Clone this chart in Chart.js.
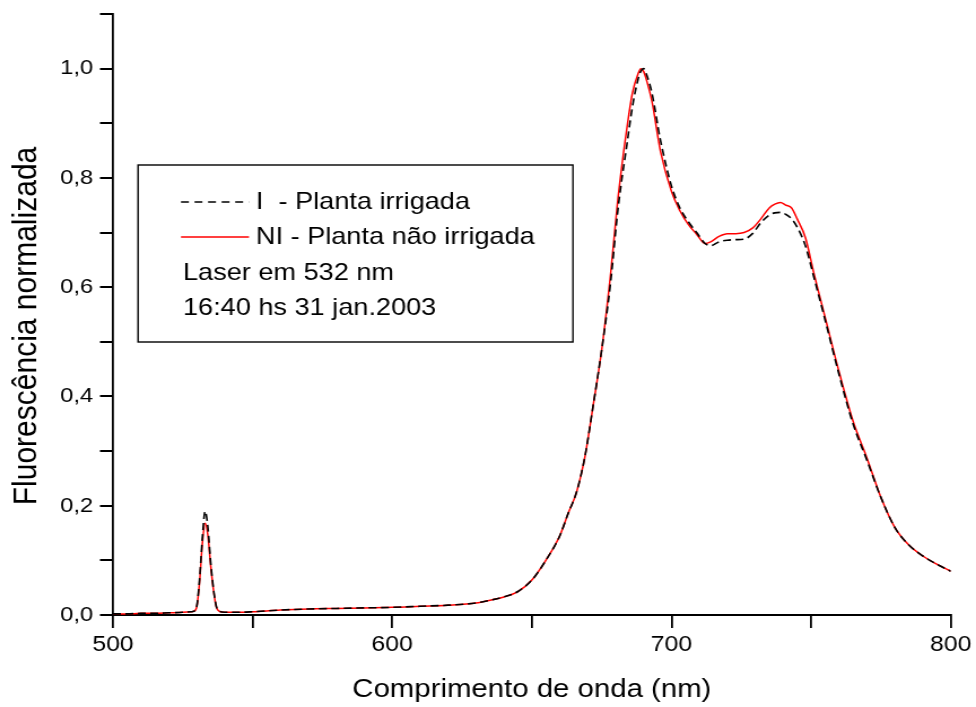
<!DOCTYPE html>
<html>
<head>
    <meta charset="UTF-8">
    <title>Fluorescencia normalizada</title>
    <script src="https://cdn.jsdelivr.net/npm/chart.js"></script>
    <style>
        html, body { margin: 0; padding: 0; background: #fff; overflow: hidden; }
        /* the original figure is stretched horizontally, so draw narrower and stretch */
        #wrap { position: relative; width: 864px; height: 707px; transform: scaleX(1.12963); transform-origin: 0 0; }
    </style>
</head>
<body>
    <div id="wrap">
        <canvas id="fluorChart"></canvas>
    </div>

<script>
        // comprimento de onda (nm)
        const wavelength = [500, 505, 510, 515, 520, 525, 528, 529, 530, 531, 532, 533, 534, 535, 536, 537, 538, 540, 545, 550,
            560, 570, 580, 590, 600, 610, 620, 630, 635, 640, 645, 650, 655, 660, 663, 666, 669, 672, 675, 678,
            681, 684, 686, 688, 689, 690, 691, 693, 696, 700, 703, 706, 709, 712, 714, 717, 720, 723, 726, 729,
            732, 735, 737, 739, 741, 743, 745, 748, 751, 755, 760, 765, 770, 775, 780, 785, 790, 795, 800];

        // I - Planta irrigada
        const plantaIrrigada = [0.002, 0.002, 0.003, 0.003, 0.004, 0.005, 0.006, 0.007, 0.016, 0.065, 0.14, 0.19, 0.16, 0.095, 0.047, 0.016, 0.007, 0.005, 0.005, 0.006,
            0.009, 0.011, 0.012, 0.013, 0.014, 0.016, 0.018, 0.022, 0.027, 0.033, 0.043, 0.064, 0.10, 0.145, 0.186, 0.225, 0.29, 0.385, 0.485, 0.60,
            0.75, 0.86, 0.93, 0.98, 0.995, 1.0, 0.99, 0.955, 0.87, 0.785, 0.745, 0.72, 0.70, 0.68, 0.676, 0.683, 0.686, 0.687, 0.688, 0.698,
            0.718, 0.732, 0.736, 0.737, 0.733, 0.725, 0.71, 0.675, 0.618, 0.54, 0.44, 0.35, 0.283, 0.215, 0.16, 0.128, 0.108, 0.093, 0.08];

        // NI - Planta nao irrigada
        const plantaNaoIrrigada = [0.002, 0.002, 0.003, 0.003, 0.004, 0.005, 0.006, 0.007, 0.015, 0.06, 0.13, 0.168, 0.145, 0.09, 0.045, 0.015, 0.007, 0.005, 0.005, 0.006,
            0.009, 0.011, 0.012, 0.013, 0.014, 0.016, 0.018, 0.022, 0.027, 0.033, 0.043, 0.064, 0.10, 0.145, 0.186, 0.225, 0.29, 0.385, 0.485, 0.615,
            0.77, 0.89, 0.955, 0.99, 1.0, 0.995, 0.98, 0.94, 0.85, 0.775, 0.74, 0.715, 0.697, 0.68, 0.683, 0.693, 0.698, 0.698, 0.70, 0.708,
            0.725, 0.745, 0.752, 0.755, 0.75, 0.745, 0.725, 0.69, 0.625, 0.545, 0.445, 0.355, 0.287, 0.215, 0.16, 0.128, 0.108, 0.093, 0.08];

        const xTickLabels = [500, 600, 700, 800];
        const yTickLabels = ['0,0', '0,2', '0,4', '0,6', '0,8', '1,0'];
        const legendLines = ['I  - Planta irrigada', 'NI - Planta não irrigada', 'Laser em 532 nm', '16:40 hs 31 jan.2003'];
        const yTitle = 'Fluorescência normalizada';

        function toPoints(ys) {
            var pts = [];
            for (var i = 0; i < wavelength.length; i++) {
                pts.push({ x: wavelength[i], y: ys[i] });
            }
            return pts;
        }

        // legend box drawn like the Origin one, with the two extra text lines,
        // plus the y title which sits a bit below the axis centre in the original
        const boxLegend = {
            id: 'boxLegend',
            afterDraw(chart) {
                var ctx = chart.ctx;
                ctx.save();
                ctx.strokeStyle = '#000';
                ctx.lineWidth = 1.4;
                ctx.strokeRect(122.2, 165, 385, 177);

                ctx.setLineDash([7, 5]);
                ctx.beginPath();
                ctx.moveTo(160.2, 202);
                ctx.lineTo(220.4, 202);
                ctx.stroke();
                ctx.setLineDash([]);
                ctx.strokeStyle = '#ff0000';
                ctx.beginPath();
                ctx.moveTo(160.2, 237);
                ctx.lineTo(220.4, 237);
                ctx.stroke();

                ctx.fillStyle = '#000';
                ctx.font = '24px "Liberation Sans", Arial, sans-serif';
                ctx.textBaseline = 'middle';
                ctx.fillText(legendLines[0], 226.6, 202);
                ctx.fillText(legendLines[1], 226.6, 237);
                ctx.fillText(legendLines[2], 162, 273);
                ctx.fillText(legendLines[3], 162, 308);

                ctx.translate(23.3, 326);
                ctx.rotate(-Math.PI / 2);
                ctx.textAlign = 'center';
                ctx.font = '30px "Liberation Sans", Arial, sans-serif';
                ctx.fillText(yTitle, 0, 0);
                ctx.restore();
            }
        };

        var ctx = document.getElementById('fluorChart').getContext('2d');
        var fluorChart = new Chart(ctx, {
            type: 'line',
            data: {
                datasets: [{
                    label: 'I  - Planta irrigada',
                    data: toPoints(plantaIrrigada),
                    borderColor: '#000000',
                    borderWidth: 1.6,
                    borderDash: [7, 4],
                    pointRadius: 0,
                    cubicInterpolationMode: 'monotone'
                }, {
                    label: 'NI - Planta não irrigada',
                    data: toPoints(plantaNaoIrrigada),
                    borderColor: '#ff0000',
                    borderWidth: 1.5,
                    pointRadius: 0,
                    cubicInterpolationMode: 'monotone'
                }]
            },
            options: {
                responsive: true,
                maintainAspectRatio: false,
                animation: false,
                layout: { autoPadding: false, padding: { left: 0, top: 14, right: 20.4, bottom: 0 } },
                plugins: {
                    legend: { display: false },
                    tooltip: { enabled: false }
                },
                scales: {
                    x: {
                        type: 'linear',
                        min: 500,
                        max: 800,
                        border: { display: true, color: '#000', width: 2 },
                        grid: { drawOnChartArea: false, drawTicks: true, tickLength: 13, color: '#000', lineWidth: 1.8 },
                        ticks: {
                            stepSize: 50,
                            padding: 4,
                            color: '#000',
                            maxRotation: 0,
                            font: { family: '"Liberation Sans", Arial, sans-serif', size: 22 },
                            callback: function (v) { return xTickLabels.indexOf(v) >= 0 ? String(v) : ''; }
                        },
                        title: {
                            display: true,
                            text: 'Comprimento de onda (nm)',
                            color: '#000',
                            padding: { top: 0, bottom: 2 },
                            font: { family: '"Liberation Sans", Arial, sans-serif', size: 26 }
                        },
                        afterFit: function (scale) { scale.height = 92; }
                    },
                    y: {
                        min: 0,
                        max: 1.1,
                        border: { display: true, color: '#000', width: 1.8 },
                        grid: { drawOnChartArea: false, drawTicks: true, tickLength: 11.5, color: '#000', lineWidth: 2 },
                        ticks: {
                            stepSize: 0.1,
                            padding: 6,
                            color: '#000',
                            font: { family: '"Liberation Sans", Arial, sans-serif', size: 21, lineHeight: 0.6 },
                            callback: function (v) {
                                var k = Math.round(v * 10);
                                return k % 2 === 0 ? yTickLabels[k / 2] : '';
                            }
                        },
                        afterFit: function (scale) { scale.width = 100; }
                    }
                }
            },
            plugins: [boxLegend]
        });
    </script>
</body>
</html>
